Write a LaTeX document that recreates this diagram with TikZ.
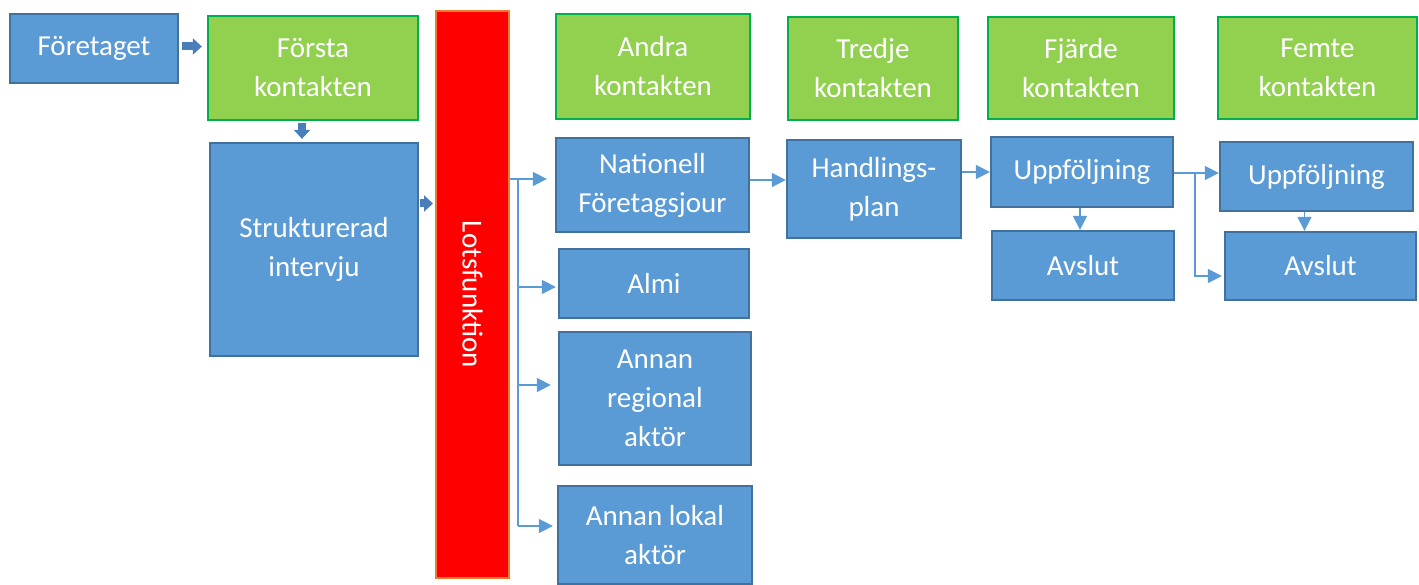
\documentclass[tikz,border=0pt]{standalone}
\usepackage{fontspec}
\setmainfont{Carlito}
\usepackage{xcolor}
\usetikzlibrary{arrows.meta}
\definecolor{BoxBlue}{HTML}{5B9BD5}
\definecolor{EdgeBlue}{HTML}{41719C}
\definecolor{StepGreen}{HTML}{92D050}
\definecolor{EdgeGreen}{HTML}{00B050}
\definecolor{LotsRed}{HTML}{FF0000}
\definecolor{EdgeOrange}{HTML}{ED7D31}
\definecolor{ArrowBlue}{HTML}{4A7EBB}

\begin{document}
\begin{tikzpicture}[x=1pt,y=-1pt,
  every node/.style={text=white,align=center,font=\fontsize{29}{39}\selectfont},
  bluebox/.style={draw=EdgeBlue,fill=BoxBlue,line width=2.3pt},
  greenbox/.style={draw=EdgeGreen,fill=StepGreen,line width=2.3pt},
  lotsbox/.style={draw=EdgeOrange,fill=LotsRed,line width=2pt},
  conn/.style={BoxBlue,line width=1.5pt,-{Triangle[length=14pt,width=14pt]}},
  blockarr/.style={ArrowBlue,line width=8pt,-{Triangle[length=9pt,width=16pt]}}]
\useasboundingbox (0,0) rectangle (1419,585);
% kontakt-rubriker
\node[bluebox,minimum width=168pt,minimum height=69pt] (foretaget) at (94,48.5) {Företaget};
\node[greenbox,minimum width=210pt,minimum height=104pt] (forsta) at (313,68) {Första\\kontakten};
\node[greenbox,minimum width=194pt,minimum height=105pt] (andra) at (653,66.5) {Andra\\kontakten};
\node[greenbox,minimum width=170pt,minimum height=103pt] (tredje) at (873,68.5) {Tredje\\kontakten};
\node[greenbox,minimum width=186pt,minimum height=102pt] (fjarde) at (1081,68) {Fjärde\\kontakten};
\node[greenbox,minimum width=199pt,minimum height=102pt] (femte) at (1317.5,68) {Femte\\kontakten};
% steg
\node[bluebox,minimum width=208pt,minimum height=213pt] (strukt) at (314,249.5) {Strukturerad\\intervju};
\node[lotsbox,minimum width=73pt,minimum height=567pt] (lots) at (472.5,294.5) {};
\node[rotate=-90] (lotstext) at (lots.center) {Lotsfunktion};
\node[bluebox,minimum width=193pt,minimum height=94pt] (nat) at (652.5,185) {Nationell\\Företagsjour};
\node[bluebox,minimum width=190pt,minimum height=69pt] (almi) at (654,283.5) {Almi};
\node[bluebox,minimum width=192pt,minimum height=133pt] (regional) at (655,398.5) {Annan\\regional\\aktör};
\node[bluebox,minimum width=194pt,minimum height=98pt] (lokal) at (655,535) {Annan lokal\\aktör};
\node[bluebox,minimum width=174pt,minimum height=98pt] (hand) at (874,189) {Handlings-\\plan};
\node[bluebox,minimum width=182pt,minimum height=70pt] (upp4) at (1082,172) {Uppföljning};
\node[bluebox,minimum width=182pt,minimum height=69pt] (avs4) at (1083,265.5) {Avslut};
\node[bluebox,minimum width=193pt,minimum height=69pt] (upp5) at (1316.5,176.5) {Uppföljning};
\node[bluebox,minimum width=191pt,minimum height=68pt] (avs5) at (1320.5,266) {Avslut};
% blockpilar
\draw[blockarr,shorten <=3pt,shorten >=5pt] ([yshift=2pt]foretaget.east) -- ([yshift=2pt]foretaget.east -| forsta.west);
\draw[blockarr,shorten <=2pt,shorten >=3pt] ([xshift=-11pt]forsta.south) -- ([xshift=-11pt]forsta.south |- strukt.north);
\draw[blockarr,shorten <=1pt,shorten >=2pt] ([yshift=46pt]strukt.east) -- ([yshift=46pt]strukt.east -| lots.west);
% lotsning
\coordinate (trunk) at (518,179);
\draw[BoxBlue,line width=1.5pt] (trunk -| lots.east) -- (trunk) -- ([yshift=9pt]lokal.west -| trunk);
\foreach \n/\dy/\gap in {nat/6/8,almi/-3.5/2,regional/13.5/7,lokal/9/4}
  \draw[conn,shorten >=\gap pt] ([yshift=\dy pt]\n.west -| trunk) -- ([yshift=\dy pt]\n.west);
% vidare kontakter
\draw[conn] ([yshift=5pt]nat.east) -- ([yshift=5pt]nat.east -| hand.west);
\draw[conn] (upp4.west -| hand.east) -- (upp4.west);
\draw[conn] ([xshift=-2pt]upp4.south) -- ([xshift=-2pt]upp4.south |- avs4.north);
\coordinate (fork) at (1195,173);
\draw[conn] ([yshift=-1pt]upp4.east) -- ([yshift=-1pt]upp4.east -| upp5.west);
\draw[conn,shorten >=2pt] (fork) |- ([yshift=-10pt]avs5.west);
\draw[conn] ([xshift=-12pt]upp5.south) -- ([xshift=-12pt]upp5.south |- avs5.north);
\end{tikzpicture}
\end{document}
